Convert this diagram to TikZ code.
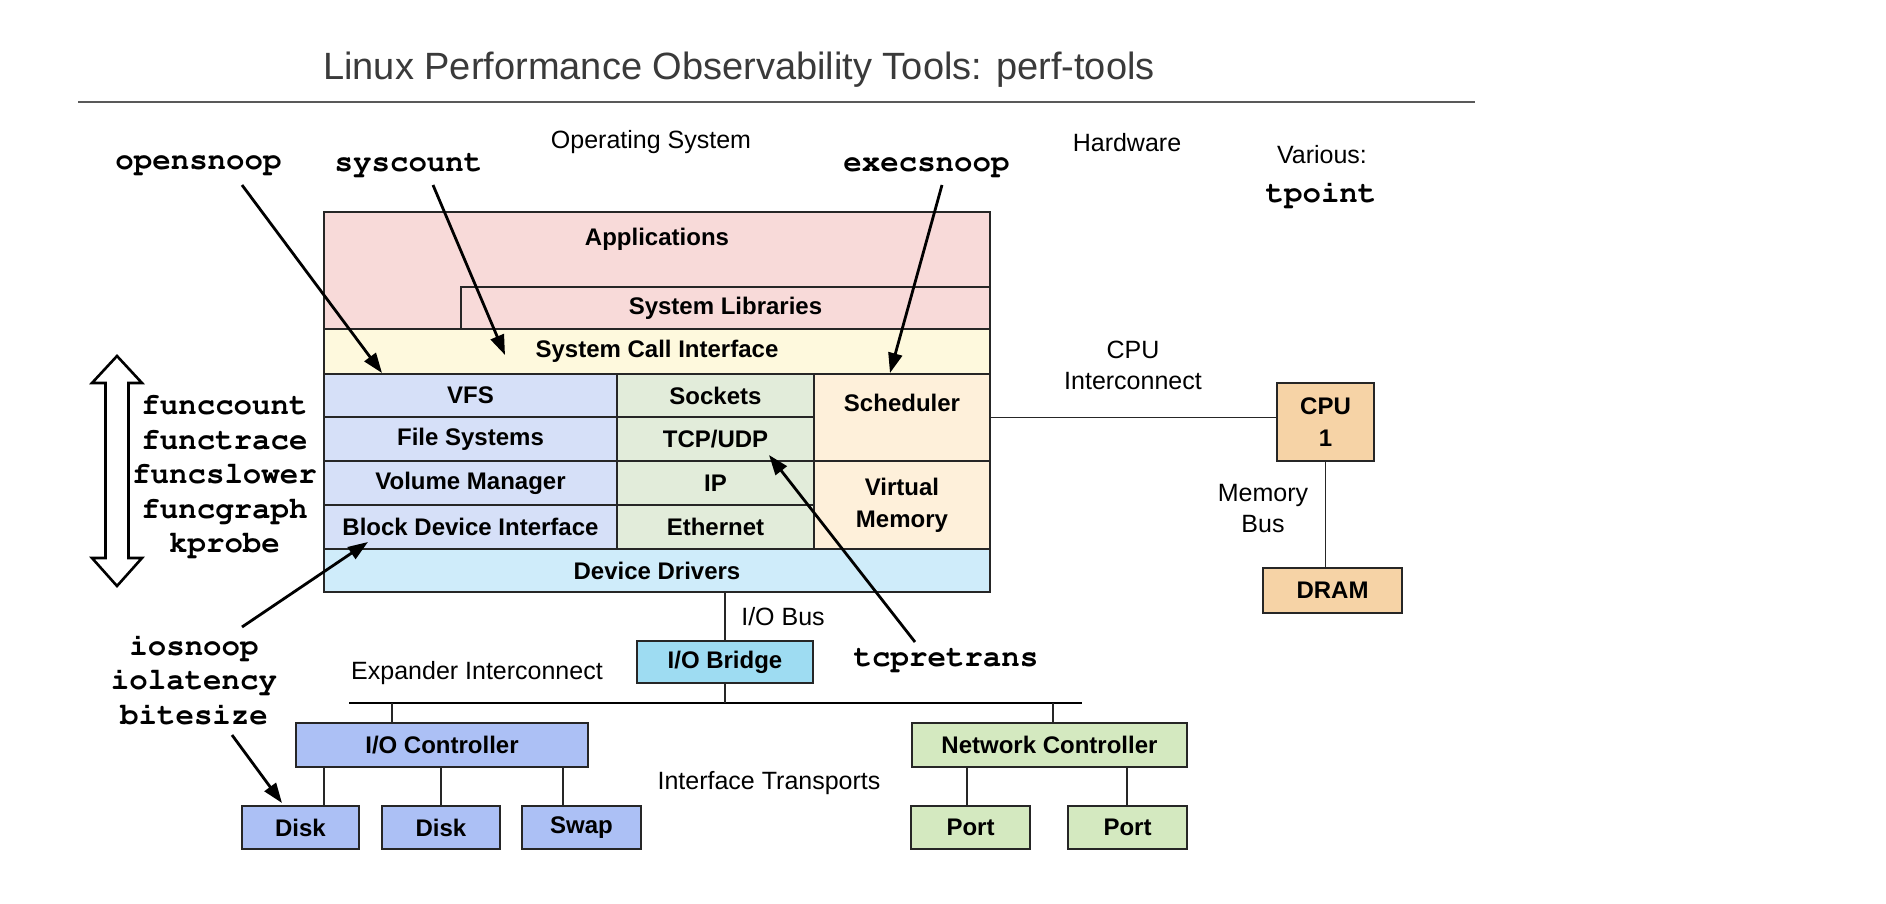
\documentclass[tikz,border=0pt]{standalone}
\usepackage{fontspec}
\setmainfont{Liberation Sans}
\setmonofont{Liberation Mono}
\usetikzlibrary{fit,arrows.meta}
\definecolor{cApp}{HTML}{F8DAD9}
\definecolor{cSci}{HTML}{FEF9DD}
\definecolor{cVfs}{HTML}{D6E0F8}
\definecolor{cNet}{HTML}{E2ECDA}
\definecolor{cSch}{HTML}{FEF0DA}
\definecolor{cDd}{HTML}{CFECFA}
\definecolor{cBr}{HTML}{9EDCF2}
\definecolor{cIo}{HTML}{ACC0F5}
\definecolor{cNc}{HTML}{D4E9C0}
\definecolor{cCpu}{HTML}{F6D3A6}
\definecolor{cTitle}{HTML}{3A3A3A}
\begin{document}
\begin{tikzpicture}[x=0.5pt,y=-0.5pt,
  box/.style={draw=black!85,line width=0.75pt,inner sep=0pt},
  btxt/.style={font=\bfseries\fontsize{12}{16}\selectfont,align=center,inner sep=0pt},
  lbl/.style={font=\fontsize{12.5}{14.5}\selectfont,align=center,inner sep=0pt},
  tool/.style={font=\fontencoding{T1}\fontfamily{pcr}\fontseries{b}\fontsize{15.4}{17.3}\selectfont,align=center,inner sep=0pt},
  tarrow/.style={line width=1.4pt,-{Triangle[length=10pt,width=7pt]}},
  wire/.style={line width=0.75pt,draw=black!85},
  bus/.style={line width=1.4pt,draw=black}]
\fill[white] (0,0) rectangle (1886,904);
\useasboundingbox (0,0) rectangle (1886,904);

% title
\node[font=\fontsize{19}{22}\selectfont,text=cTitle,inner sep=0pt] (title) at (739,70) {Linux Performance Observability Tools: perf-tools};
\coordinate (ruleL) at (78,102);
\coordinate (ruleR) at (1475,102);
\draw[line width=0.8pt,draw=black!65] (ruleL) -- (ruleR);

% section labels
\node[lbl] (os) at (651,142) {Operating System};
\node[lbl] (hw) at (1127,143) {Hardware};
\node[lbl] (various) at (1322,155) {Various:};
\node[tool] (tpoint) at (1321,194) {tpoint};

% software stack
\node[box,fill=cApp,fit={(324,212) (990,329)}] (app) {};
\node[btxt] (apptxt) at (657,239) {Applications};
\node[box,fill=cApp,fit={(461,287) (990,329)},label={[btxt]center:System Libraries}] (syslib) {};
\node[box,fill=cSci,fit={(324,329) (990,374)},label={[btxt]center:System Call Interface}] (sci) {};
\node[box,fill=cVfs,fit={(324,374) (617,417)},label={[btxt]center:VFS}] (vfs) {};
\node[box,fill=cVfs,fit={(324,417) (617,461)},label={[btxt]center:File Systems}] (fs) {};
\node[box,fill=cVfs,fit={(324,461) (617,505)},label={[btxt]center:Volume Manager}] (vm) {};
\node[box,fill=cVfs,fit={(324,505) (617,549)},label={[btxt]center:Block Device Interface}] (bdi) {};
\node[box,fill=cNet,fit={(617,374) (814,417)},label={[btxt]center:Sockets}] (sock) {};
\node[box,fill=cNet,fit={(617,417) (814,461)},label={[btxt]center:TCP/UDP}] (tcp) {};
\node[box,fill=cNet,fit={(617,461) (814,505)},label={[btxt]center:IP}] (ip) {};
\node[box,fill=cNet,fit={(617,505) (814,549)},label={[btxt]center:Ethernet}] (eth) {};
\node[box,fill=cSch,fit={(814,374) (990,461)}] (sched) {};
\node[btxt] (schedtxt) at (902,403) {Scheduler};
\node[box,fill=cSch,fit={(814,461) (990,549)},label={[btxt]center:{Virtual\\Memory}}] (virt) {};
\node[box,fill=cDd,fit={(324,549) (990,592)},label={[btxt]center:Device Drivers}] (dd) {};

% hardware
\node[box,fill=cCpu,fit={(1277,383) (1374,461)},label={[btxt]center:{CPU\\1}}] (cpu) {};
\node[box,fill=cCpu,fit={(1263,568) (1402,613)},label={[btxt]center:DRAM}] (dram) {};
\draw[wire] (sched.east) -- (sched.east -| cpu.west);
\draw[wire] (cpu.south) -- (cpu.south |- dram.north);
\node[lbl] (cpuic) at (1133,365) {CPU\\[1pt]Interconnect};
\node[lbl] (membus) at (1263,509) {Memory\\[1pt]Bus};

% I/O
\node[box,fill=cBr,fit={(637,641) (813,683)},label={[btxt]center:I/O Bridge}] (bridge) {};
\draw[wire] (bridge.north) -- (bridge.north |- dd.south);
\node[lbl] (iobus) at (783,617) {I/O Bus};
\coordinate (busL) at (349,703);
\coordinate (busR) at (1082,703);
\draw[bus] (busL) -- (busR);
\draw[wire] (bridge.south) -- (bridge.south |- busL);
\node[lbl] (expander) at (477,673) {Expander Interconnect};

\node[box,fill=cIo,fit={(296,723) (588,767)},label={[btxt]center:I/O Controller}] (ioc) {};
\node[box,fill=cNc,fit={(912,723) (1187,767)},label={[btxt]center:Network Controller}] (nc) {};
\coordinate (xioc) at (392,703);
\coordinate (xnc) at (1053,703);
\draw[wire] (xioc) -- (xioc |- ioc.north);
\draw[wire] (xnc) -- (xnc |- nc.north);

\node[box,fill=cIo,fit={(242,806) (359,849)},label={[btxt]center:Disk}] (disk1) {};
\node[box,fill=cIo,fit={(382,806) (500,849)},label={[btxt]center:Disk}] (disk2) {};
\node[box,fill=cIo,fit={(522,806) (641,849)},label={[btxt]center:Swap}] (swap) {};
\node[box,fill=cNc,fit={(911,806) (1030,849)},label={[btxt]center:Port}] (port1) {};
\node[box,fill=cNc,fit={(1068,806) (1187,849)},label={[btxt]center:Port}] (port2) {};
\coordinate (xd1) at (324,0);
\coordinate (xd2) at (441,0);
\coordinate (xd3) at (563,0);
\coordinate (xp1) at (967,0);
\coordinate (xp2) at (1127,0);
\draw[wire] (ioc.south -| xd1) -- (disk1.north -| xd1);
\draw[wire] (ioc.south -| xd2) -- (disk2.north -| xd2);
\draw[wire] (ioc.south -| xd3) -- (swap.north -| xd3);
\draw[wire] (nc.south -| xp1) -- (port1.north -| xp1);
\draw[wire] (nc.south -| xp2) -- (port2.north -| xp2);
\node[lbl] (transports) at (769,783) {Interface Transports};

% tools
\node[tool] (opensnoop) at (198.5,165) {opensnoop};
\node[tool] (syscount) at (408.5,165) {syscount};
\node[tool] (execsnoop) at (926.5,167) {execsnoop};
\node[tool] (funcs) at (224.5,476) {funccount\\functrace\\funcslower\\funcgraph\\kprobe};
\node[tool] (iotools) at (194,680) {iosnoop\\iolatency\\bitesize};
\node[tool] (tcpretrans) at (946,660) {tcpretrans};

\coordinate (s1) at (242,185); \coordinate (e1) at (382,373);
\coordinate (s2) at (433,185); \coordinate (e2) at (505,355);
\coordinate (s3) at (942,185); \coordinate (e3) at (890,373);
\coordinate (s4) at (915,642); \coordinate (e4) at (769,455);
\coordinate (s5) at (242,627); \coordinate (e5) at (368,542);
\coordinate (s6) at (232,735); \coordinate (e6) at (282,803);
\draw[tarrow] (s1) -- (e1);
\draw[tarrow] (s2) -- (e2);
\draw[tarrow] (s3) -- (e3);
\draw[tarrow] (s4) -- (e4);
\draw[tarrow] (s5) -- (e5);
\draw[tarrow] (s6) -- (e6);

% double arrow
\draw[line width=1.3pt,fill=white,line join=miter]
  (117,356) -- (142,383) -- (128.5,383) -- (128.5,558) -- (142,558) -- (117,586)
  -- (92,558) -- (105.5,558) -- (105.5,383) -- (92,383) -- cycle;
\end{tikzpicture}
\end{document}
